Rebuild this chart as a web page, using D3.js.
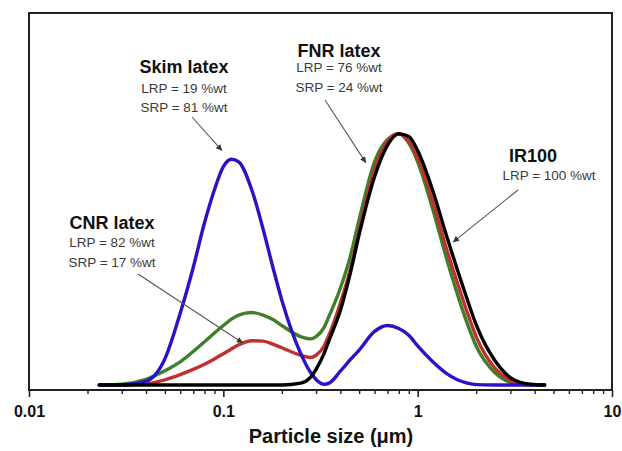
<!DOCTYPE html>
<html>
<head>
<meta charset="utf-8">
<script src="https://cdn.jsdelivr.net/npm/d3@7"></script>
<style>
  body { margin: 0; background: #fff; }
  text { font-family: Arial, "Liberation Sans", sans-serif; }
</style>
</head>
<body>
<svg width="622" height="451"></svg>
<script>
// particle size (um) shared by all four distributions
const sizes = [0.023, 0.03, 0.04, 0.05, 0.06, 0.07, 0.08, 0.09, 0.1, 0.11,
               0.12, 0.14, 0.16, 0.18, 0.2, 0.25, 0.28, 0.3, 0.33, 0.35,
               0.4, 0.45, 0.5, 0.6, 0.7, 0.8, 0.9, 1.0, 1.2, 1.4,
               1.6, 1.8, 2.0, 2.5, 3.0, 3.5, 4.0, 4.5];

// relative volume (arbitrary units)
const skimLatex = [0, 0, 0.1, 0.7, 1.93, 3.16, 4.36, 5.25, 5.87, 6.07,
                   6.0, 5.25, 4.2, 3.16, 2.28, 0.85, 0.35, 0.15, 0.02, 0.05,
                   0.37, 0.68, 0.94, 1.44, 1.6, 1.52, 1.34, 1.05, 0.62, 0.32,
                   0.14, 0.05, 0.01, 0, 0, 0, 0, 0];
const cnrLatex  = [0, 0, 0.03, 0.14, 0.28, 0.42, 0.56, 0.7, 0.84, 0.97,
                   1.08, 1.19, 1.18, 1.1, 1.0, 0.8, 0.74, 0.8, 1.05, 1.35,
                   2.2, 3.1, 4.15, 5.8, 6.55, 6.76, 6.55, 6.1, 4.9, 3.7,
                   2.75, 1.95, 1.3, 0.45, 0.12, 0.02, 0, 0];
const fnrLatex  = [0, 0.02, 0.15, 0.38, 0.62, 0.9, 1.16, 1.4, 1.6, 1.77,
                   1.88, 1.95, 1.88, 1.76, 1.6, 1.3, 1.24, 1.3, 1.55, 1.85,
                   2.6, 3.45, 4.45, 6.0, 6.6, 6.75, 6.5, 6.0, 4.7, 3.45,
                   2.45, 1.65, 1.05, 0.33, 0.07, 0.01, 0, 0];
const ir100     = [0, 0, 0, 0, 0, 0, 0, 0, 0, 0,
                   0, 0, 0, 0, 0, 0.05, 0.2, 0.42, 0.85, 1.2,
                   2.0, 3.0, 4.05, 5.6, 6.45, 6.75, 6.68, 6.3, 5.2, 4.05,
                   3.1, 2.3, 1.62, 0.65, 0.2, 0.05, 0.01, 0];

const majorTicks = [0.01, 0.1, 1, 10];
const tickLabels = ["0.01", "0.1", "1", "10"];

const noteTitles = ["Skim latex", "FNR latex", "CNR latex", "IR100"];
const noteLines = [["LRP = 19 %wt", "SRP = 81 %wt"],
                   ["LRP = 76 %wt", "SRP = 24 %wt"],
                   ["LRP = 82 %wt", "SRP = 17 %wt"],
                   ["LRP = 100 %wt"]];
// point on the curve each arrow aims at: [size, value]
const noteTargets = [[0.0985, 6.3], [0.542, 5.97], [0.126, 1.13], [1.52, 3.84]];

const box = {left: 29, right: 612, top: 13, bottom: 390};
const noteLayout = [
  {x: 184, titleY: 73, lineY: [93, 112], from: [192, 117]},
  {x: 339, titleY: 57, lineY: [72, 92], from: [325, 100]},
  {x: 112, titleY: 229, lineY: [247, 267], from: [138, 274]},
  {x: 533, titleY: 162, lineY: [180], lineX: 549, from: [518, 190]}
];

const series = [
  {values: fnrLatex, color: "#3f7f2a"},
  {values: cnrLatex, color: "#c0302c"},
  {values: skimLatex, color: "#2a12c8"},
  {values: ir100, color: "#000"}
];

var svg = d3.select("svg");

var x = d3.scaleLog().domain([0.01, 10]).range([box.left, box.right]);
var y = d3.scaleLinear().domain([0, 10]).range([385, box.top]);

var line = d3.line()
  .x(function(d) { return x(d[0]); })
  .y(function(d) { return y(d[1]); })
  .curve(d3.curveMonotoneX);

series.forEach(function(s) {
  svg.append("path")
     .datum(sizes.map(function(v, i) { return [v, s.values[i]]; }))
     .attr("d", line)
     .attr("fill", "none")
     .attr("stroke", s.color)
     .attr("stroke-width", 3.4)
     .attr("stroke-linejoin", "round")
     .attr("stroke-linecap", "round");
});

// frame
svg.append("rect")
   .attr("x", box.left).attr("y", box.top)
   .attr("width", box.right - box.left).attr("height", box.bottom - box.top)
   .attr("fill", "none").attr("stroke", "#222").attr("stroke-width", 2);

// minor ticks
var minor = x.ticks().filter(function(t) { return majorTicks.indexOf(t) < 0; });
svg.append("g")
   .attr("transform", "translate(0," + box.bottom + ")")
   .call(d3.axisBottom(x).tickValues(minor).tickSize(4).tickFormat(""))
   .call(function(g) {
     g.select(".domain").remove();
     g.selectAll(".tick line").attr("stroke", "#222").attr("stroke-width", 1.4);
   });

// major ticks + labels
svg.append("g")
   .attr("transform", "translate(0," + box.bottom + ")")
   .call(d3.axisBottom(x).tickValues(majorTicks).tickSize(7).tickPadding(9)
           .tickFormat(function(d, i) { return tickLabels[i]; }))
   .call(function(g) {
     g.select(".domain").remove();
     g.selectAll(".tick line").attr("stroke", "#222").attr("stroke-width", 1.6);
     g.selectAll(".tick text")
      .attr("fill", "#111")
      .attr("font-size", 16)
      .attr("font-weight", "bold")
      .attr("font-family", "Arial, 'Liberation Sans', sans-serif");
   });

svg.append("text")
   .attr("x", 331).attr("y", 443)
   .attr("text-anchor", "middle")
   .attr("font-size", 20).attr("font-weight", "bold").attr("fill", "#111")
   .text("Particle size (\u03bcm)");

// arrow marker
svg.append("defs").append("marker")
   .attr("id", "head")
   .attr("viewBox", "0 0 10 10")
   .attr("refX", 10).attr("refY", 5)
   .attr("markerWidth", 9).attr("markerHeight", 6)
   .attr("markerUnits", "userSpaceOnUse")
   .attr("orient", "auto")
   .append("path").attr("d", "M0,0L10,5L0,10z").attr("fill", "#333");

noteTitles.forEach(function(title, i) {
  var L = noteLayout[i];
  svg.append("text")
     .attr("x", L.x).attr("y", L.titleY)
     .attr("text-anchor", "middle")
     .attr("font-size", 18).attr("font-weight", "bold").attr("fill", "#111")
     .text(title);
  noteLines[i].forEach(function(t, j) {
    svg.append("text")
       .attr("x", L.lineX || L.x).attr("y", L.lineY[j])
       .attr("text-anchor", "middle")
       .attr("font-size", 13.5).attr("fill", "#3a3a3a")
       .text(t);
  });
  svg.append("line")
     .attr("x1", L.from[0]).attr("y1", L.from[1])
     .attr("x2", x(noteTargets[i][0])).attr("y2", y(noteTargets[i][1]))
     .attr("stroke", "#555").attr("stroke-width", 1.1)
     .attr("marker-end", "url(#head)");
});
</script>
</body>
</html>
